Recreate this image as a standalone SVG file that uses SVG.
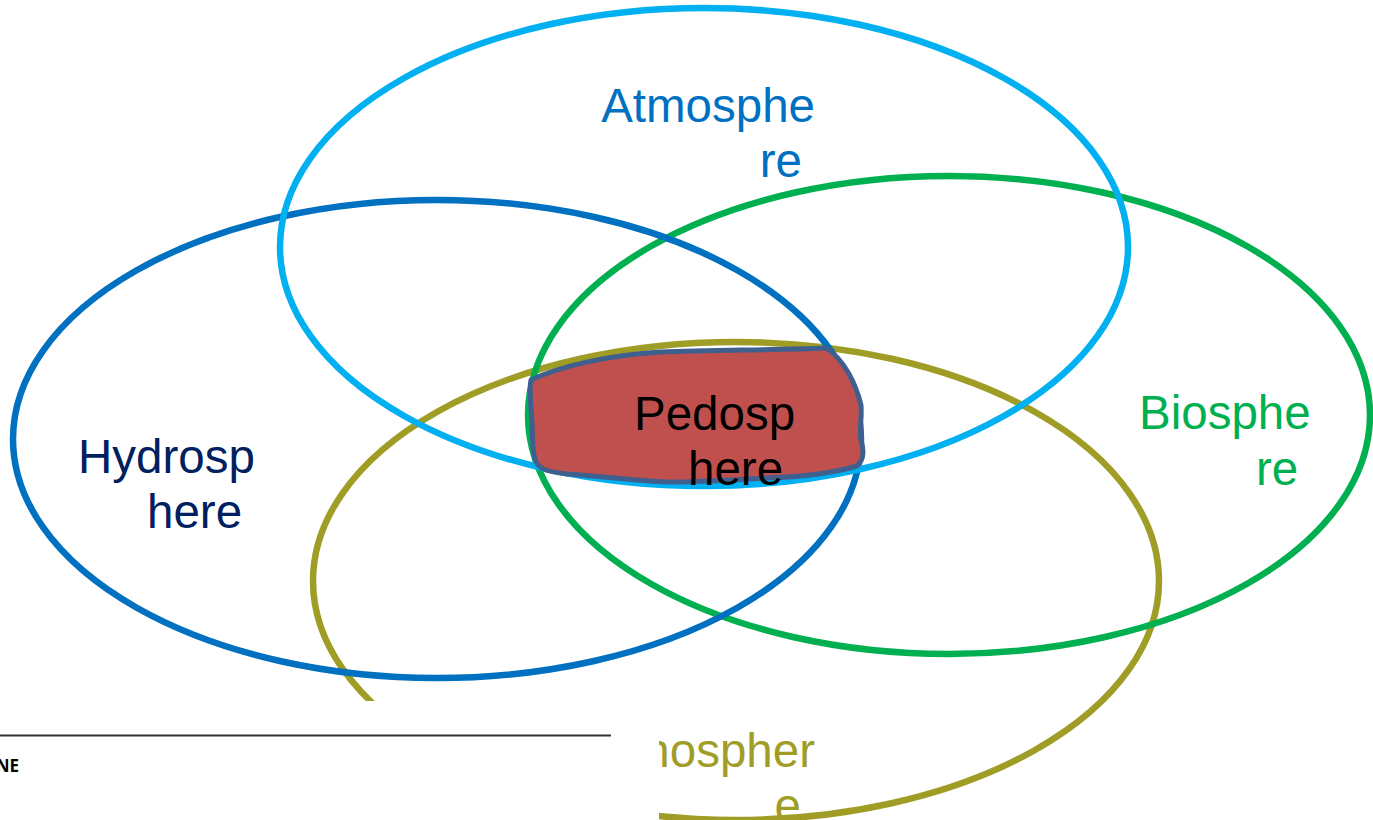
<svg xmlns="http://www.w3.org/2000/svg" width="1373" height="820" viewBox="0 0 1373 820">
<style>
.ell{fill:none;stroke-width:6.5}
.lbl{font-family:"Liberation Sans",Arial,sans-serif;font-size:47.5px}
</style>
<rect width="1373" height="820" fill="#fff"/>
<g id="lithosphere">
<ellipse class="ell" cx="736" cy="581" rx="423" ry="239" stroke="#A09D26"/>
<text class="lbl" x="815" y="767" text-anchor="end" fill="#A09D26">Lithospher</text>
<text class="lbl" x="801" y="822" text-anchor="end" fill="#A09D26">e</text>
</g>
<g id="biosphere">
<ellipse class="ell" cx="949" cy="415" rx="421" ry="239" stroke="#00B050"/>
<text class="lbl" x="1139" y="429" fill="#00B050">Biosphe</text>
<text class="lbl" x="1256" y="485" fill="#00B050">re</text>
</g>
<g id="hydrosphere">
<ellipse class="ell" cx="437" cy="439" rx="424" ry="239" stroke="#0070C0"/>
<text class="lbl" x="78" y="473" fill="#002060">Hydrosp</text>
<text class="lbl" x="147" y="528" fill="#002060">here</text>
</g>
<g id="atmosphere">
<ellipse class="ell" cx="704" cy="247" rx="424" ry="239" stroke="#00B0F0"/>
<text class="lbl" x="815" y="122" text-anchor="end" fill="#0070C0">Atmosphe</text>
<text class="lbl" x="802" y="177" text-anchor="end" fill="#0070C0">re</text>
</g>
<g id="pedosphere">
<path d="M531,380 C560,366 610,355 660,352 C720,350 780,350 826,348 C845,360 856,385 861,405 C862,420 859,430 861,440 C864,450 864,460 857,466 C830,474 800,477 767,478 C730,480 700,482 667,482 C630,480 600,476 567,474 C550,472 540,470 536,462 C531,450 533,435 532,423 C531,405 529,390 531,380 Z" fill="#C0504D" stroke="#3F5F8F" stroke-width="5" stroke-linejoin="round"/>
<text class="lbl" x="634" y="430" fill="#000">Pedosp</text>
<text class="lbl" x="688" y="485" fill="#000">here</text>
</g>
<g id="footer">
<rect x="0" y="701" width="659" height="119" fill="#fff"/>
<line x1="0" y1="735.5" x2="611" y2="735.5" stroke="#333" stroke-width="2"/>
<text x="19" y="772" text-anchor="end" font-family="'Open Sans','Liberation Sans',sans-serif" font-weight="bold" font-size="17" fill="#000">NE</text>
</g>
<g id="connectors"/>
</svg>
